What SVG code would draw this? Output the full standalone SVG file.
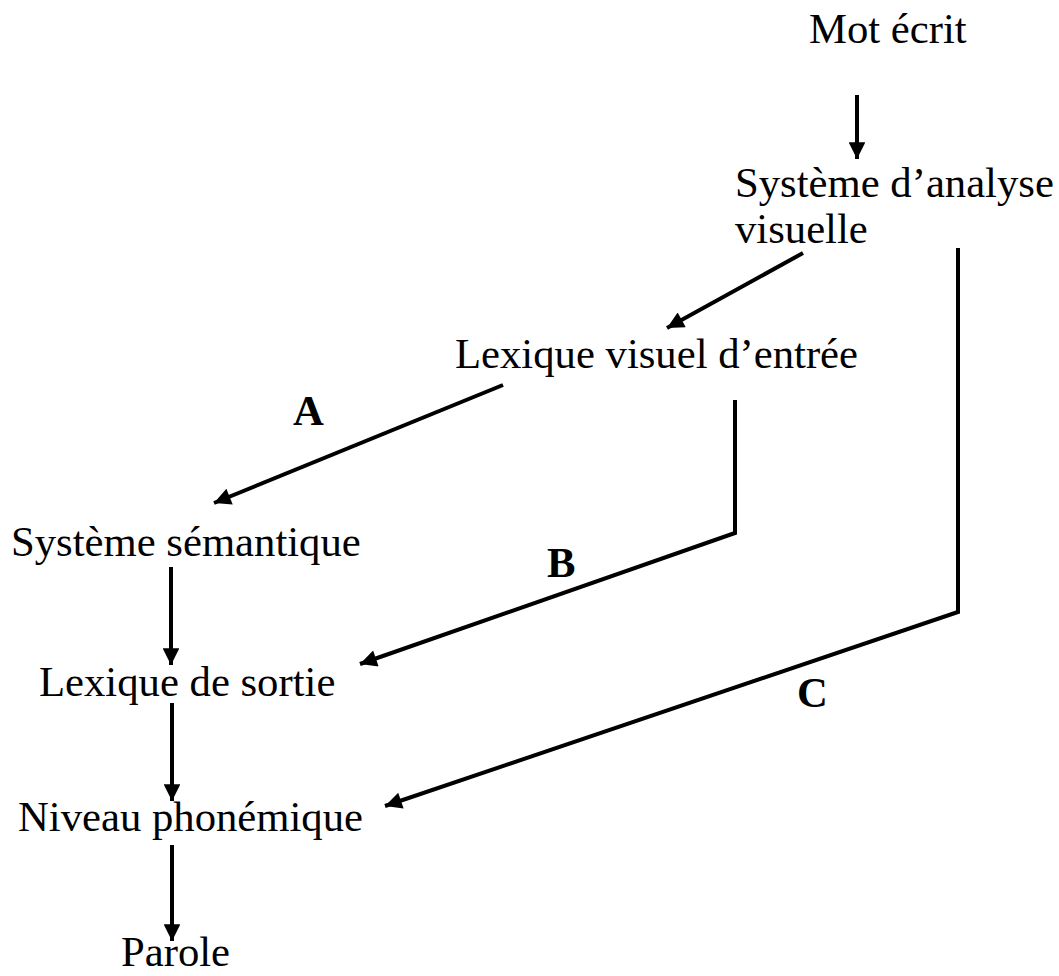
<svg xmlns="http://www.w3.org/2000/svg" width="1059" height="976" viewBox="0 0 1059 976">
<defs>
<marker id="ah" viewBox="0 0 10 10" refX="10" refY="5" markerWidth="5.5" markerHeight="4.2" markerUnits="strokeWidth" orient="auto">
<path d="M0,0 L10,5 L0,10 Z" fill="#000"/>
</marker>
<style>
text{font-family:"Liberation Serif","Times New Roman",serif;font-size:42.7px;fill:#000}
.lbl{font-weight:bold}
.c{fill:none;stroke:#000;stroke-width:4}
</style>
</defs>
<rect width="1059" height="976" fill="#fff"/>
<g id="connectors">
<line class="c" x1="857" y1="95" x2="857" y2="159" marker-end="url(#ah)"/>
<line class="c" x1="803" y1="253" x2="667" y2="328" marker-end="url(#ah)"/>
<line class="c" x1="503" y1="385" x2="214" y2="503" marker-end="url(#ah)"/>
<polyline class="c" points="735,400 735,533 360,664" marker-end="url(#ah)"/>
<polyline class="c" points="958,248 958,612 385,806" marker-end="url(#ah)"/>
<line class="c" x1="171" y1="567" x2="171" y2="665" marker-end="url(#ah)"/>
<line class="c" x1="172" y1="703" x2="172" y2="801" marker-end="url(#ah)"/>
<line class="c" x1="172" y1="845" x2="172" y2="941" marker-end="url(#ah)"/>
</g>
<g id="mot-ecrit"><text x="809" y="43">Mot écrit</text></g>
<g id="systeme-analyse"><text x="735" y="197">Système d’analyse</text><text x="735" y="243">visuelle</text></g>
<g id="lexique-visuel"><text x="455" y="368">Lexique visuel d’entrée</text></g>
<g id="systeme-semantique"><text x="11" y="556">Système sémantique</text></g>
<g id="lexique-sortie"><text x="39" y="696">Lexique de sortie</text></g>
<g id="niveau-phonemique"><text x="18" y="831">Niveau phonémique</text></g>
<g id="parole"><text x="121" y="966">Parole</text></g>
<g id="labels">
<text class="lbl" x="293" y="425">A</text>
<text class="lbl" x="547" y="577">B</text>
<text class="lbl" x="797" y="707">C</text>
</g>
</svg>
